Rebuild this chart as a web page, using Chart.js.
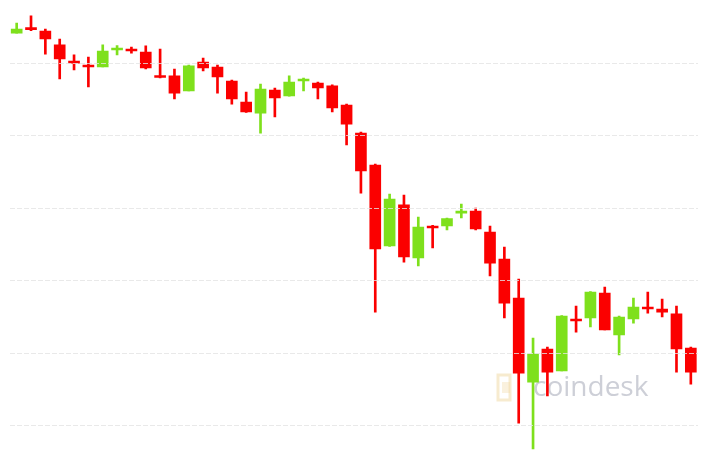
<!DOCTYPE html>
<html>
<head>
<meta charset="utf-8">
<script src="https://cdn.jsdelivr.net/npm/chart.js@4/dist/chart.umd.min.js"></script>
<style>
  html, body { margin: 0; padding: 0; background: #fff; }
  #wrap { width: 710px; height: 458px; position: relative; }
</style>
</head>
<body>
<div id="wrap"><canvas id="candleChart"></canvas></div>
<script>
// BTC/USD candles (one per period)
var opens  = [8709, 8744, 8723, 8627, 8509, 8482, 8475, 8592, 8595, 8578, 8416, 8413, 8309, 8509, 8475, 8378,
              8233, 8157, 8316, 8275, 8378, 8364, 8344, 8212, 8019, 7798, 7240, 7523, 7157, 7378, 7378, 7467,
              7481, 7336, 7150, 6881, 6301, 6529, 6377, 6736, 6743, 6915, 6626, 6736, 6815, 6805, 6771, 6536];
var highs  = [8778, 8827, 8737, 8668, 8558, 8544, 8627, 8622, 8613, 8620, 8599, 8461, 8488, 8537, 8488, 8385,
              8302, 8357, 8330, 8413, 8399, 8371, 8351, 8219, 8026, 7805, 7598, 7591, 7440, 7382, 7433, 7529,
              7502, 7378, 7233, 7012, 6605, 6543, 6760, 6826, 6925, 6957, 6757, 6881, 6922, 6874, 6826, 6543];
var lows   = [8709, 8725, 8564, 8392, 8454, 8337, 8475, 8558, 8571, 8461, 8400, 8254, 8309, 8447, 8295, 8219,
              8162, 8019, 8130, 8273, 8309, 8254, 8164, 7937, 7605, 6784, 7236, 7129, 7102, 7226, 7350, 7433,
              7350, 7033, 6743, 6018, 5839, 6205, 6377, 6646, 6681, 6660, 6488, 6708, 6777, 6750, 6370, 6287];
var closes = [8737, 8733, 8668, 8530, 8502, 8475, 8585, 8599, 8585, 8468, 8402, 8295, 8482, 8468, 8406, 8254,
              8164, 8323, 8261, 8371, 8385, 8330, 8192, 8081, 7757, 7219, 7564, 7164, 7371, 7364, 7429, 7474,
              7357, 7122, 6846, 6363, 6494, 6370, 6757, 6722, 6922, 6660, 6750, 6819, 6805, 6784, 6529, 6370];
var labels = opens.map(function(v, i) { return String(i + 1); });
var gridValues = [6000, 6500, 7000, 7500, 8000, 8500];

var yMin = 5777, yMax = 8937;

var upColor = "#7ee01c";
var downColor = "#fb0000";
var candleColors = opens.map(function(o, i) { return closes[i] >= o ? upColor : downColor; });

// coindesk watermark, drawn under the candles
var watermark = {
    id: "watermark",
    beforeDatasetsDraw: function(chart) {
        var ctx = chart.ctx;
        ctx.save();
        ctx.strokeStyle = "rgba(240, 215, 160, 0.5)";
        ctx.lineWidth = 3;
        ctx.strokeRect(498, 375, 12, 25);
        ctx.fillStyle = "rgba(240, 215, 160, 0.35)";
        ctx.fillRect(502, 382, 8, 11);
        ctx.fillStyle = "rgba(155, 160, 175, 0.5)";
        ctx.font = "28px 'Open Sans', 'Liberation Sans', sans-serif";
        ctx.textBaseline = "alphabetic";
        ctx.fillText("coindesk", 533, 396);
        ctx.restore();
    }
};

var ctx = document.getElementById("candleChart").getContext("2d");
var candleChart = new Chart(ctx, {
    type: "bar",
    data: {
        labels: labels,
        datasets: [{
            label: "Body",
            data: opens.map(function(o, i) { return [o, closes[i]]; }),
            backgroundColor: candleColors,
            barThickness: 11,
            minBarLength: 2,
            grouped: false,
            borderWidth: 0
        }, {
            label: "Wick",
            data: lows.map(function(l, i) { return [l, highs[i]]; }),
            backgroundColor: candleColors,
            barThickness: 2,
            grouped: false,
            borderWidth: 0
        }]
    },
    options: {
        responsive: true,
        maintainAspectRatio: false,
        animation: false,
        layout: { padding: { left: 9.5, right: 12, top: 0, bottom: 0 } },
        plugins: { legend: { display: false }, tooltip: { enabled: false } },
        scales: {
            x: { display: false, offset: true },
            y: {
                min: yMin,
                max: yMax,
                afterBuildTicks: function(scale) {
                    scale.ticks = gridValues.map(function(v) { return { value: v }; });
                },
                ticks: { display: false },
                border: { display: false, dash: [5, 2] },
                grid: {
                    drawTicks: false,
                    z: 1,
                    lineWidth: 1,
                    color: "rgba(228, 228, 228, 0.8)"
                }
            }
        }
    },
    plugins: [watermark]
});
</script>
</body>
</html>
